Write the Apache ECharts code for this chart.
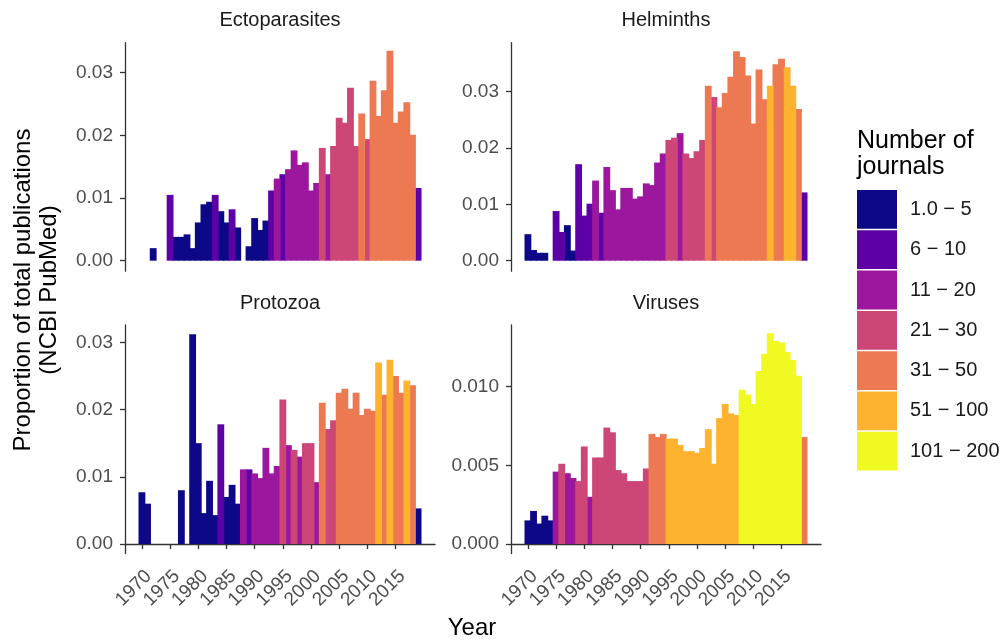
<!DOCTYPE html>
<html>
<head>
<meta charset="utf-8">
<title>Proportion of total publications by year</title>
<script src="https://cdn.jsdelivr.net/npm/echarts@6.0.0/dist/echarts.min.js"></script>
<style>
  html, body { margin: 0; padding: 0; background: #ffffff; }
  #chart { width: 1005px; height: 643px; }
</style>
</head>
<body>
<div id="chart"></div>
<script>
// years shown on the x axis, one bar per year
const years = [1970, 1971, 1972, 1973, 1974, 1975, 1976, 1977, 1978, 1979,
               1980, 1981, 1982, 1983, 1984, 1985, 1986, 1987, 1988, 1989,
               1990, 1991, 1992, 1993, 1994, 1995, 1996, 1997, 1998, 1999,
               2000, 2001, 2002, 2003, 2004, 2005, 2006, 2007, 2008, 2009,
               2010, 2011, 2012, 2013, 2014, 2015, 2016, 2017, 2018, 2019];
const yearTicks = [1970, 1975, 1980, 1985, 1990, 1995, 2000, 2005, 2010, 2015];

// number-of-journals classes
const binLabels = ['1.0 \u2212 5', '6 \u2212 10', '11 \u2212 20', '21 \u2212 30', '31 \u2212 50', '51 \u2212 100', '101 \u2212 200'];
const binColors = ['#0d0887', '#5d01a6', '#9c179e', '#cc4678', '#ed7953', '#fdb32f', '#f0f921'];

// proportion of publications per year, and journal class of that year
const ectoValues = [null, null, 0.0020, null, null, 0.0105, 0.0038, 0.0038, 0.0042, 0.0020,
                    0.0061, 0.0090, 0.0094, 0.0105, 0.0079, 0.0061, 0.0082, 0.0053, null, 0.0023,
                    0.0068, 0.0049, 0.0064, 0.0112, 0.0131, 0.0138, 0.0146, 0.0176, 0.0153, 0.0157,
                    0.0112, 0.0124, 0.0180, 0.0138, 0.0183, 0.0228, 0.0220, 0.0276, 0.0183, 0.0235,
                    0.0194, 0.0287, 0.0231, 0.0272, 0.0335, 0.0220, 0.0238, 0.0253, 0.0201, 0.0116];
const ectoBins = [null, null, 0, null, null, 1, 0, 0, 0, 0,
                  0, 0, 0, 1, 0, 0, 1, 0, null, 0,
                  0, 0, 0, 1, 2, 1, 2, 2, 2, 2,
                  2, 2, 3, 2, 3, 3, 3, 3, 3, 4,
                  3, 4, 4, 4, 4, 4, 4, 4, 4, 1];

const helmValues = [0.0047, 0.0019, 0.0014, 0.0014, null, 0.0088, 0.0051, 0.0063, 0.0018, 0.0171,
                    0.0080, 0.0101, 0.0142, 0.0085, 0.0166, 0.0125, 0.0091, 0.0129, 0.0129, 0.0110,
                    0.0114, 0.0137, 0.0134, 0.0174, 0.0190, 0.0214, 0.0218, 0.0226, 0.0190, 0.0182,
                    0.0194, 0.0214, 0.0310, 0.0290, 0.0272, 0.0297, 0.0326, 0.0371, 0.0361, 0.0328,
                    0.0243, 0.0339, 0.0286, 0.0310, 0.0348, 0.0358, 0.0343, 0.0310, 0.0269, 0.0121];
const helmBins = [0, 0, 0, 0, null, 1, 1, 0, 0, 1,
                  1, 1, 2, 1, 2, 2, 2, 2, 2, 2,
                  2, 2, 2, 2, 2, 3, 3, 2, 3, 3,
                  3, 3, 4, 3, 4, 4, 4, 4, 4, 4,
                  4, 4, 4, 5, 4, 4, 5, 5, 4, 1];

const protoValues = [0.0077, 0.0060, null, null, null, null, null, 0.0080, null, 0.0312,
                     0.0150, 0.0046, 0.0094, 0.0043, 0.0178, 0.0070, 0.0088, 0.0060, 0.0111, 0.0111,
                     0.0105, 0.0098, 0.0143, 0.0105, 0.0116, 0.0215, 0.0147, 0.0140, 0.0130, 0.0150,
                     0.0150, 0.0092, 0.0210, 0.0171, 0.0184, 0.0225, 0.0231, 0.0201, 0.0225, 0.0192,
                     0.0201, 0.0198, 0.0270, 0.0222, 0.0274, 0.0250, 0.0225, 0.0243, 0.0236, 0.0053];
const protoBins = [0, 0, null, null, null, null, null, 0, null, 0,
                   0, 0, 0, 0, 1, 0, 0, 0, 2, 1,
                   2, 2, 2, 2, 2, 3, 2, 3, 2, 3,
                   3, 2, 4, 3, 3, 4, 4, 4, 4, 4,
                   4, 4, 5, 4, 5, 4, 4, 5, 4, 0];

const virusValues = [0.0015, 0.0021, 0.0013, 0.0018, 0.0015, 0.0046, 0.0051, 0.0045, 0.0042, 0.0040,
                     0.0062, 0.0030, 0.0055, 0.0055, 0.0074, 0.0071, 0.0047, 0.0045, 0.0040, 0.0040,
                     0.0040, 0.0048, 0.0070, 0.0068, 0.0070, 0.0067, 0.0067, 0.0063, 0.0059, 0.0059,
                     0.0058, 0.0061, 0.0073, 0.0051, 0.0080, 0.0089, 0.0083, 0.0082, 0.0098, 0.0095,
                     0.0089, 0.0110, 0.0121, 0.0134, 0.0129, 0.0128, 0.0122, 0.0117, 0.0107, 0.0068];
const virusBins = [0, 0, 0, 0, 0, 2, 3, 2, 2, 3,
                   3, 2, 3, 3, 3, 3, 3, 3, 3, 3,
                   3, 3, 4, 4, 4, 5, 5, 5, 5, 5,
                   5, 5, 5, 5, 5, 5, 5, 5, 6, 6,
                   6, 6, 6, 6, 6, 6, 6, 6, 6, 4];

const ticks2 = [0, 0.01, 0.02, 0.03];
const ticksVirus = [0, 0.005, 0.010];

const font = "'Liberation Sans', Arial, sans-serif";
const gridW = 310;
const gridH = 228.5;
// one year wide, plus a little overlap so neighbouring bars leave no seam
const barW = gridW / 55 + 1.2;

const panels = [
    { name: 'Ectoparasites', values: ectoValues, bins: ectoBins, left: 125, top: 42.7, min: -0.00168, max: 0.03479, ticks: ticks2, digits: 2, bottom: false },
    { name: 'Helminths', values: helmValues, bins: helmBins, left: 511, top: 42.7, min: -0.00186, max: 0.03863, ticks: ticks2, digits: 2, bottom: false },
    { name: 'Protozoa', values: protoValues, bins: protoBins, left: 125, top: 325, min: -0.00141, max: 0.03257, ticks: ticks2, digits: 2, bottom: true },
    { name: 'Viruses', values: virusValues, bins: virusBins, left: 511, top: 325, min: -0.000604, max: 0.01392, ticks: ticksVirus, digits: 3, bottom: true }
];

const grids = [], xAxes = [], yAxes = [], series = [], texts = [];

panels.forEach((p, i) => {
    grids.push({ left: p.left, top: p.top, width: gridW, height: gridH, containLabel: false });
    xAxes.push({
        type: 'value', gridIndex: i, min: 1967, max: 2022,
        show: p.bottom,
        axisLine: { show: true, lineStyle: { color: '#333333', width: 1.3 } },
        axisTick: { show: true, length: 5, customValues: yearTicks, lineStyle: { color: '#333333', width: 1.3 } },
        axisLabel: { customValues: yearTicks, rotate: 45, margin: 13, verticalAlign: 'top',
                     color: '#4d4d4d', fontSize: 19, fontFamily: font, formatter: v => String(v) },
        splitLine: { show: false }
    });
    yAxes.push({
        type: 'value', gridIndex: i, min: p.min, max: p.max,
        axisLine: { show: true, lineStyle: { color: '#333333', width: 1.3 } },
        axisTick: { show: true, length: 5, customValues: p.ticks, lineStyle: { color: '#333333', width: 1.3 } },
        axisLabel: { customValues: p.ticks, margin: 12, color: '#4d4d4d', fontSize: 19, fontFamily: font,
                     formatter: v => v.toFixed(p.digits) },
        splitLine: { show: false }
    });
    binLabels.forEach((label, b) => {
        const data = [];
        years.forEach((y, k) => {
            if (p.bins[k] === b && p.values[k] !== null) data.push([y, p.values[k]]);
        });
        series.push({
            name: label, type: 'bar', xAxisIndex: i, yAxisIndex: i,
            barWidth: barW, barGap: '-100%',
            itemStyle: { color: binColors[b] },
            data: data
        });
    });
    texts.push({
        type: 'text', x: p.left + gridW / 2, y: p.top - 22,
        style: { text: p.name, font: '20px ' + font, fill: '#1a1a1a', textAlign: 'center', textVerticalAlign: 'middle' }
    });
});

// axis titles and legend title
texts.push({
    type: 'text', x: 472, y: 628,
    style: { text: 'Year', font: '24px ' + font, fill: '#000000', textAlign: 'center', textVerticalAlign: 'middle' }
});
texts.push({
    type: 'text', x: 23, y: 290, rotation: Math.PI / 2,
    style: { text: 'Proportion of total publications', font: '24px ' + font, fill: '#000000', textAlign: 'center', textVerticalAlign: 'middle' }
});
texts.push({
    type: 'text', x: 49, y: 290, rotation: Math.PI / 2,
    style: { text: '(NCBI PubMed)', font: '24px ' + font, fill: '#000000', textAlign: 'center', textVerticalAlign: 'middle' }
});
texts.push({
    type: 'text', x: 857, y: 141,
    style: { text: 'Number of', font: '25px ' + font, fill: '#000000', textAlign: 'left', textVerticalAlign: 'middle' }
});
texts.push({
    type: 'text', x: 857, y: 167,
    style: { text: 'journals', font: '25px ' + font, fill: '#000000', textAlign: 'left', textVerticalAlign: 'middle' }
});

const chart = echarts.init(document.getElementById('chart'));
chart.setOption({
    animation: false,
    backgroundColor: '#ffffff',
    grid: grids,
    xAxis: xAxes,
    yAxis: yAxes,
    legend: {
        data: binLabels, orient: 'vertical', left: 857, top: 190, padding: 0,
        itemWidth: 40, itemHeight: 38.8, itemGap: 1.5, icon: 'rect', selectedMode: false,
        textStyle: { fontSize: 20, color: '#1a1a1a', fontFamily: font, padding: [0, 0, 0, 8] }
    },
    graphic: texts,
    series: series
});
</script>
</body>
</html>
